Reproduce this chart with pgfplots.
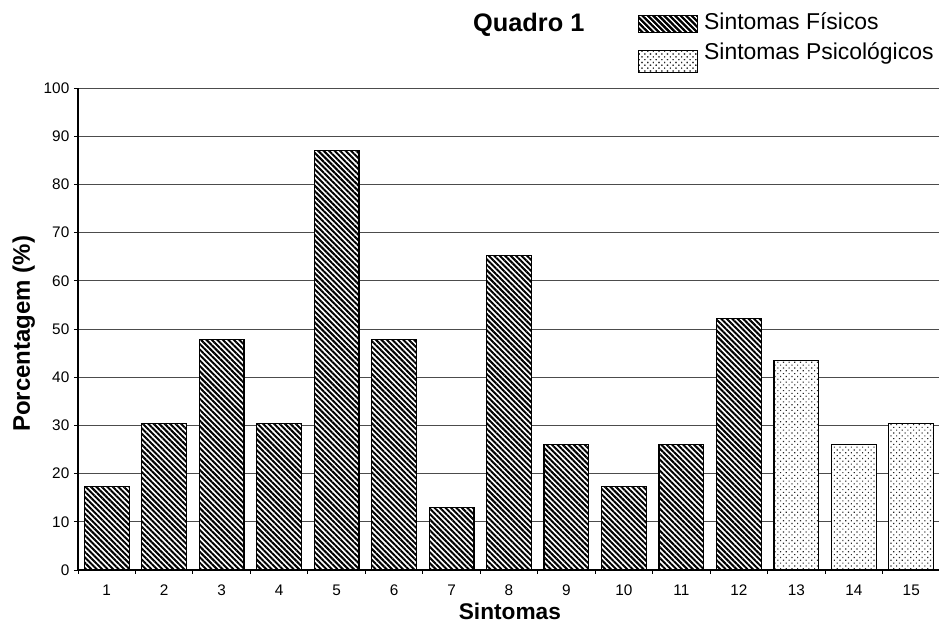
\documentclass[border=0pt]{standalone}
\usepackage{pgfplots}
\pgfplotsset{compat=1.18}
\usetikzlibrary{patterns.meta}
\usepackage{fontspec}
\setmainfont{Liberation Sans}

\tikzset{
 hatchfill/.style={fill=white, postaction={pattern={Lines[angle=-45,distance=2.9pt,line width=1.5pt]}, pattern color=black}},
 dotfill/.style={fill=white, postaction={pattern={Dots[angle=45,distance=3pt,radius=0.6pt]}, pattern color=black!85}},
}

\begin{document}
\begin{tikzpicture}
\path[use as bounding box] (0,0) rectangle (704.25pt,473.25pt);
\begin{axis}[
  at={(58.5pt,45.75pt)}, anchor=south west,
  scale only axis, width=646.5pt, height=361.5pt,
  /pgf/number format/assume math mode=true,
  ybar, bar width=0.78, bar shift=0pt,
  xmin=0.5, xmax=15.5, ymin=0, ymax=100,
  xtick={1,...,15}, minor xtick={0.5,1.5,...,15.5},
  ytick={0,10,...,100},
  major x tick style={draw=none},
  minor x tick style={black, line width=0.7pt},
  y tick style={black, line width=0.7pt},
  tick align=outside,
  major tick length=3pt, minor tick length=3pt,
  axis x line*=bottom, axis y line*=left,
  axis line style={black, line width=1.1pt},
  ymajorgrids, grid style={black!70, line width=0.6pt},
  tick label style={font=\fontsize{11.5}{13}\selectfont},
  x tick label style={yshift=-4.5pt},
  xlabel={Sintomas}, ylabel={Porcentagem (\%)},
  xlabel style={at={(axis description cs:0.501,-0.1037)}, anchor=base, font=\fontsize{17}{20}\selectfont\bfseries},
  ylabel style={at={(axis description cs:-0.0557,0.49)}, anchor=base, font=\fontsize{18}{21}\selectfont\bfseries},
  title={Quadro 1},
  every axis title shift=0pt,
  title style={at={(axis description cs:0.523,1.118)}, anchor=base, font=\fontsize{19}{22}\selectfont\bfseries},
  clip=false,
  legend style={at={(axis description cs:0.6497,1.158)}, anchor=north west, draw=none, fill=none,
     font=\fontsize{17.2}{20}\selectfont, inner sep=0pt, outer sep=0pt, row sep=6pt,
     cells={anchor=base west},
     nodes={inner sep=0pt, outer sep=0pt, text height=13pt, text depth=4pt},
     /tikz/every odd column/.append style={column sep=4.5pt}},
]
\addplot[ybar, bar shift=0pt, draw=black, line width=0.9pt, hatchfill,
  legend image code/.code={\draw[hatchfill, draw=black, line width=0.8pt] (0pt,-2.6pt) rectangle (44.25pt,10.3pt);}] coordinates {
 (1,17.4) (2,30.4) (3,47.8) (4,30.4) (5,87.0) (6,47.8) (7,13.0) (8,65.2)
 (9,26.1) (10,17.4) (11,26.1) (12,52.2)};
\addlegendentry{Sintomas Físicos}
\addplot[ybar, bar shift=0pt, draw=black, line width=0.9pt, dotfill,
  legend image code/.code={\draw[dotfill, draw=black, line width=0.8pt] (0pt,-9.8pt) rectangle (44.25pt,7.2pt);}] coordinates {
 (13,43.5) (14,26.1) (15,30.4)};
\addlegendentry{Sintomas Psicológicos}
\end{axis}
\end{tikzpicture}
\end{document}
